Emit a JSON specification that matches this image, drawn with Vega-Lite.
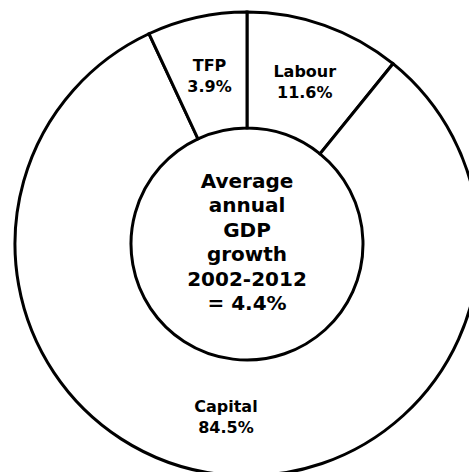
{
  "$schema": "https://vega.github.io/schema/vega-lite/v6.json",
  "width": 494,
  "height": 488,
  "autosize": "none",
  "padding": 0,
  "background": "white",
  "layer": [
    {
      "data": {"name": "components", "values": [
        {"component": "Labour", "share": "11.6%", "angle": 39, "order": 1},
        {"component": "Capital", "share": "84.5%", "angle": 296, "order": 2},
        {"component": "TFP", "share": "3.9%", "angle": 25, "order": 3}
      ]},
      "layer": [
        {
          "mark": {"type": "arc", "innerRadius": 116, "outerRadius": 232, "fill": "white", "stroke": "black", "strokeWidth": 3},
          "encoding": {
            "theta": {"field": "angle", "type": "quantitative", "stack": true},
            "order": {"field": "order", "type": "quantitative"}
          }
        },
        {
          "transform": [{"calculate": "datum.component + '\\n' + datum.share", "as": "label"}],
          "mark": {"type": "text", "radius": 173, "dy": -9, "font": "DejaVu Sans", "fontWeight": "bold", "fontSize": 16, "lineHeight": 21, "lineBreak": "\n", "baseline": "middle", "align": "center", "color": "black"},
          "encoding": {
            "theta": {"field": "angle", "type": "quantitative", "stack": true},
            "order": {"field": "order", "type": "quantitative"},
            "text": {"field": "label", "type": "nominal"}
          }
        }
      ]
    },
    {
      "data": {"values": [{"caption": "Average\nannual\nGDP\ngrowth\n2002-2012\n= 4.4%"}]},
      "mark": {"type": "text", "dy": -62, "font": "DejaVu Sans", "fontWeight": "bold", "fontSize": 20, "lineHeight": 24.4, "lineBreak": "\n", "baseline": "middle", "align": "center", "color": "black"},
      "encoding": {"text": {"field": "caption", "type": "nominal"}}
    }
  ],
  "config": {"view": {"stroke": null}}
}
